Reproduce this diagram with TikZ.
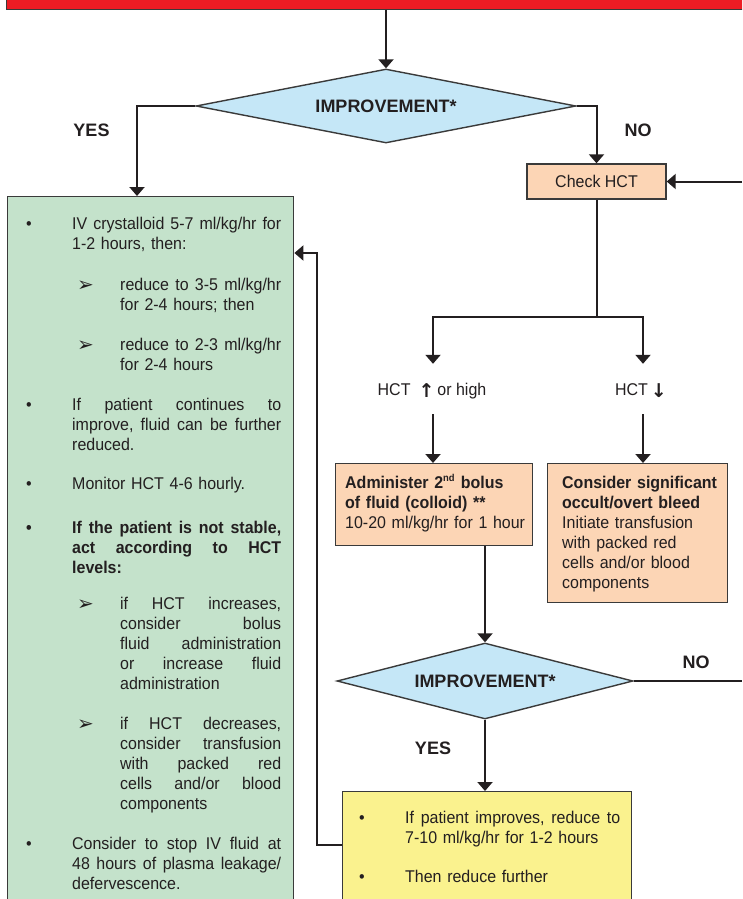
\documentclass[tikz,border=0pt]{standalone}
\usepackage{fontspec}
\setmainfont[FakeStretch=0.94]{Liberation Sans}
\newfontfamily\dfont{Liberation Sans}
\newfontfamily\sym{DejaVu Sans}
\usetikzlibrary{shapes.geometric,arrows.meta}
\definecolor{ink}{HTML}{231F20}
\definecolor{redbar}{HTML}{ED1C24}
\definecolor{dblue}{HTML}{C5E7F7}
\definecolor{peach}{HTML}{FCD5B5}
\definecolor{gfill}{HTML}{C4E2CB}
\definecolor{yfill}{HTML}{FAF28E}
\definecolor{bord}{HTML}{3A3A3A}
\newcommand\JL[1]{\leavevmode\hbox to \hsize{\frenchspacing\spaceskip=0.26em plus 1fil\xspaceskip=0.26em plus 1fil #1}\\}
\newcommand\bul{\leavevmode\llap{\makebox[46pt][l]{\textbullet}}}
\newcommand\subb{\leavevmode\llap{\makebox[43pt][l]{\raisebox{-1pt}{\fontsize{20}{20}\sym ➢}}}}
\newcommand\bodyfont{\fontsize{17}{20}\selectfont}
\newcommand\lblfont{\dfont\bfseries\fontsize{18}{20}\selectfont}
\begin{document}
\begin{tikzpicture}[x=1pt,y=-1pt, line join=miter,
  every node/.style={text=ink},
  conn/.style={draw=ink, line width=2pt},
  arr/.style={conn, -{Triangle[width=15pt,length=9pt]}},
  boxbase/.style={draw=bord, line width=1.4pt, inner sep=0, rectangle},
  dec/.style={diamond, aspect=5, draw=bord, line width=1.4pt, fill=dblue, inner sep=0, font=\lblfont},
  txt/.style={inner sep=0, anchor=base west, font=\bodyfont},
  lbl/.style={inner sep=0, font=\lblfont},
  hlab/.style={inner xsep=0, inner ysep=19pt, text height=12pt, text depth=0pt, anchor=base, font=\bodyfont},
]
\useasboundingbox (0,0) rectangle (742,899);
\clip (0,0) rectangle (742,899);
\fill[white] (0,0) rectangle (742,899);

% boxes
\node[boxbase, fill=redbar, anchor=south west, minimum width=770pt, minimum height=40pt] (red) at (6,10) {};
\node[dec, minimum width=380pt, minimum height=74pt] (d1) at (386,106) {IMPROVEMENT*};
\node[boxbase, fill=peach, minimum width=139pt, minimum height=35pt, font=\bodyfont] (chk) at (596.5,181.5) {Check HCT};
\node[boxbase, fill=gfill, anchor=north west, minimum width=286pt, minimum height=760pt] (green) at (7,196) {};
\node[boxbase, fill=peach, anchor=north west, minimum width=197pt, minimum height=82pt] (adm) at (335,463) {};
\node[boxbase, fill=peach, anchor=north west, minimum width=180pt, minimum height=139pt] (con) at (547,463) {};
\node[dec, minimum width=296pt, minimum height=76pt] (d2) at (485,681) {IMPROVEMENT*};
\node[boxbase, fill=yfill, anchor=north west, minimum width=289pt, minimum height=150pt] (yel) at (342,791) {};

% labels
\node[lbl] (yes1) at (91.5,130) {YES};
\node[lbl] (no1) at (638,130) {NO};
\node[lbl] (no2) at (696,662) {NO};
\node[lbl] (yes2) at (433,748) {YES};
\node[hlab] (hu) at (432,395) {HCT\hspace{8pt}\raisebox{-2pt}{\fontsize{19}{20}\sym\bfseries ↑}\hspace{3pt}or high};
\node[hlab] (hd) at (641,395) {HCT\hspace{3pt}\raisebox{-2pt}{\fontsize{19}{20}\sym\bfseries ↓}};

% box texts
\node[txt, text width=185pt] (admt) at (345,488) {{\bfseries Administer 2\textsuperscript{\fontsize{10}{10}\selectfont nd} bolus}\\{\bfseries of fluid (colloid) **}\\10-20 ml/kg/hr for 1 hour};
\node[txt, text width=165pt] (cont) at (562,488) {{\bfseries Consider significant}\\{\bfseries occult/overt bleed}\\Initiate transfusion\\with packed red\\cells and/or blood\\components};

\node[txt, text width=209pt] (gt1) at (72,229) {\bul\JL{IV crystalloid 5-7 ml/kg/hr for}1-2 hours, then:};
\node[txt, text width=161pt] (gs1) at (120,290) {\subb\JL{reduce to 3-5 ml/kg/hr}for 2-4 hours; then};
\node[txt, text width=161pt] (gs2) at (120,350) {\subb\JL{reduce to 2-3 ml/kg/hr}for 2-4 hours};
\node[txt, text width=209pt] (gt2) at (72,410) {\bul\JL{If patient continues to}\JL{improve, fluid can be further}reduced.};
\node[txt, text width=209pt] (gt3) at (72,489) {\bul Monitor HCT 4-6 hourly.};
\node[txt, text width=209pt] (gt4) at (72,533) {\bfseries\bul\JL{If the patient is not stable,}\JL{act according to HCT}levels:};
\node[txt, text width=161pt] (gs3) at (120,609) {\subb\JL{if HCT increases,}\JL{consider bolus}\JL{fluid administration}\JL{or increase fluid}administration};
\node[txt, text width=161pt] (gs4) at (120,729) {\subb\JL{if HCT decreases,}\JL{consider transfusion}\JL{with packed red}\JL{cells and/or blood}components};
\node[txt, text width=209pt] (gt5) at (72,849) {\bul\JL{Consider to stop IV fluid at}\JL{48 hours of plasma leakage/}defervescence.};

\node[txt, text width=215pt] (yt1) at (405,823) {\bul\JL{If patient improves, reduce to}7-10 ml/kg/hr for 1-2 hours};
\node[txt, text width=215pt] (yt2) at (405,882) {\bul Then reduce further};

% connectors
\coordinate (gin) at (137,196);
\coordinate (rin) at (742,181.5);
\coordinate (sL) at (433,317);
\coordinate (sR) at (643,317);
\coordinate (rout) at (742,683);
\coordinate (yl) at (342,845);
\coordinate (bend) at (317,253);

\draw[arr] (d1.north |- red.south) -- (d1.north);
\draw[arr] (d1.west) -| (gin);
\draw[arr] (d1.east) -| (chk.north);
\draw[arr] (rin) -- (chk.east);
\draw[conn] (chk.south) -- (chk.south |- sL);
\draw[arr] (chk.south |- sL) -- (sL) -- (sL |- hu.north);
\draw[arr] (chk.south |- sL) -- (sR) -- (sR |- hd.north);
\draw[arr] (sL |- hu.south) -- (sL |- adm.north);
\draw[arr] (sR |- hd.south) -- (sR |- con.north);
\draw[arr] (d2.north |- adm.south) -- (d2.north);
\draw[arr] (d2.south) -- (d2.south |- yel.north);
\draw[conn] (d2.east) -- (d2.east -| rout);
\draw[arr] (yl) -| (bend) -- (bend -| green.east);
\end{tikzpicture}
\end{document}
